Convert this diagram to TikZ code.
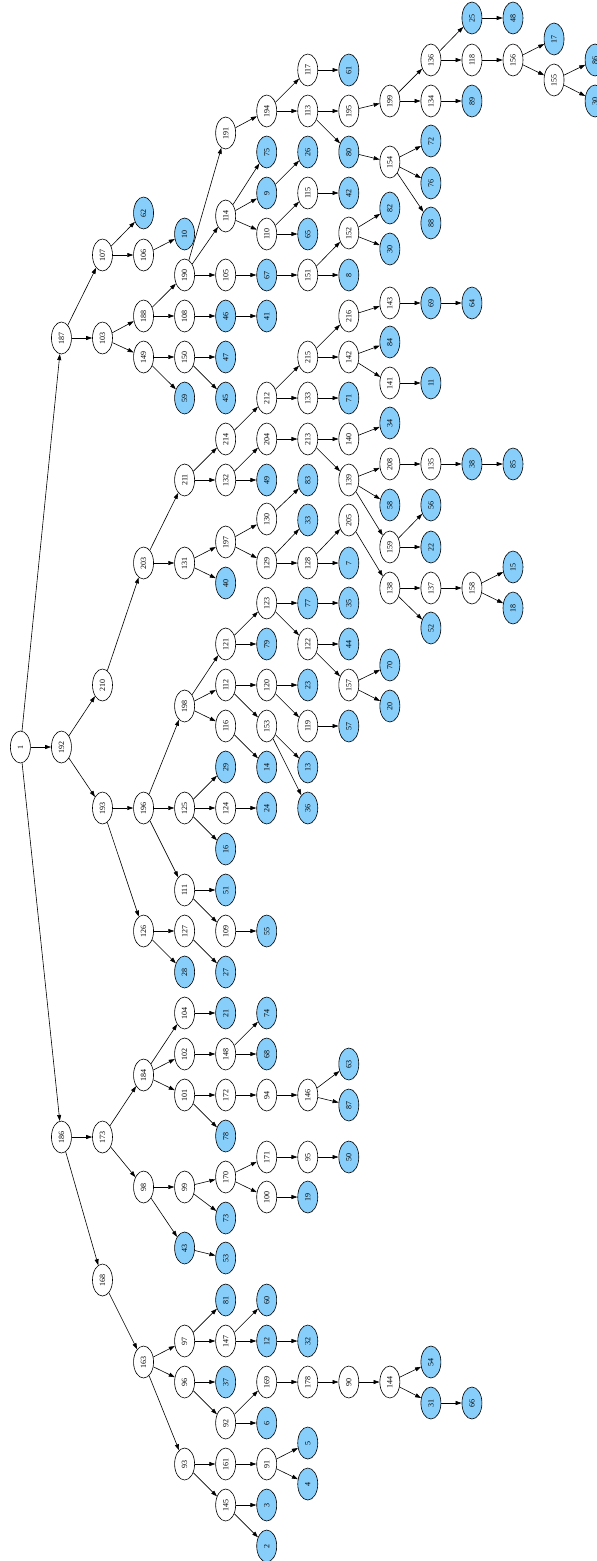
\documentclass[tikz,border=0pt]{standalone}
\usepackage{fontspec}
\setmainfont{Liberation Serif}
\usetikzlibrary{shapes.geometric,arrows.meta}
\definecolor{leafblue}{RGB}{135,206,250}
\tikzset{
  nd/.style={ellipse,draw=black,line width=0.6pt,minimum width=32pt,minimum height=20pt,inner sep=0pt,rotate=90,font=\fontsize{8}{9}\selectfont},
  wn/.style={nd,fill=white},
  bn/.style={nd,fill=leafblue},
  edge/.style={draw=black,line width=0.6pt,-{Triangle[length=6pt,width=4pt]}}
}
\begin{document}
\begin{tikzpicture}[x=1pt,y=-1pt]
\useasboundingbox (0,0) rectangle (597,1561);
% white nodes: name/label/col/y
\foreach \n/\c/\y in {
1/0/747, 187/1/338, 192/1/747, 186/1/1137,
107/2/255, 103/2/338, 106/3/255, 188/3/316, 149/3/357,
190/4/275, 108/4/316, 150/4/357,
191/5/133, 114/5/216, 105/5/275,
194/6/111, 110/6/234,
117/7/70, 113/7/111, 115/7/193, 151/7/275,
195/8/111, 152/8/233,
199/9/101, 154/9/162,
136/10/60, 134/10/101,
118/11/60, 156/12/60, 155/13/80,
210/2/685, 193/2/808,
203/3/563, 196/3/808, 126/3/931,
211/4/480, 131/4/563, 198/4/706, 125/4/808, 111/4/890, 127/4/931,
214/5/439, 132/5/480, 197/5/542, 121/5/644, 112/5/685, 116/5/726, 124/5/808, 109/5/931,
212/6/398, 204/6/439, 130/6/519, 129/6/563, 123/6/603, 120/6/685, 153/6/726,
215/7/357, 133/7/398, 213/7/439, 128/7/563, 122/7/644, 119/7/726,
216/8/316, 142/8/357, 140/8/439, 139/8/480, 205/8/520, 157/8/685,
143/9/303, 141/9/383, 208/9/464, 159/9/547, 138/9/588,
135/10/464, 137/10/588, 158/11/588,
173/2/1137, 168/2/1280,
184/3/1075, 98/3/1187, 163/3/1362,
104/4/1013, 102/4/1054, 101/4/1095, 99/4/1187, 97/4/1341, 96/4/1382, 93/4/1464,
148/5/1054, 172/5/1095, 170/5/1177, 147/5/1341, 92/5/1423, 161/5/1464, 145/5/1505,
94/6/1095, 171/6/1157, 100/6/1197, 169/6/1382, 91/6/1464,
146/7/1095, 95/7/1157, 178/7/1382,
90/8/1382, 144/9/1382}
  \node[wn] (n\n) at ({20.4+41.05*\c},\y) {\n};
% blue nodes
\foreach \n/\c/\y in {
62/3/213, 10/4/234, 59/4/398,
46/5/316, 47/5/357, 45/5/398,
75/6/152, 9/6/193, 67/6/275, 41/6/316,
26/7/152, 65/7/234,
61/8/70, 80/8/152, 42/8/193, 8/8/275,
82/9/208,
72/10/141, 76/10/183, 88/10/223,
25/11/18, 89/11/101, 48/12/18, 17/13/39, 86/14/60,
28/4/972,
40/5/583, 29/5/767, 16/5/849, 51/5/890, 27/5/972,
49/6/480, 79/6/644, 14/6/767, 24/6/808, 55/6/931,
83/7/480, 33/7/520, 77/7/603, 23/7/685, 13/7/767, 36/7/808,
71/8/398, 7/8/563, 35/8/603, 44/8/644, 57/8/726,
84/9/342, 34/9/423, 58/9/505, 70/9/665, 20/9/706,
69/10/303, 11/10/383, 56/10/505, 22/10/547, 52/10/628,
64/11/303, 38/11/464,
85/12/464, 15/12/567, 18/12/608,
43/4/1248,
21/5/1013, 78/5/1136, 73/5/1218, 53/5/1258, 81/5/1300, 37/5/1382,
74/6/1013, 68/6/1054, 60/6/1300, 12/6/1341, 6/6/1423, 3/6/1505, 2/6/1546,
19/7/1197, 32/7/1341, 5/7/1443, 4/7/1484,
63/8/1064, 87/8/1105, 50/8/1157,
54/10/1362, 31/10/1403, 66/11/1403}
  \node[bn] (n\n) at ({20.4+41.05*\c},\y) {\n};
\node[bn] (n30a) at ({20.4+41.05*9},249) {30};
\node[bn] (n30b) at ({20.4+41.05*14},101) {30};
% edges
\foreach \a/\b in {
1/187, 1/192, 1/186,
187/107, 187/103,
107/62, 107/106, 106/10,
103/188, 103/149,
188/190, 188/108, 108/46, 46/41,
190/191, 190/114, 190/105,
105/67, 67/151, 151/8, 151/152, 152/82, 152/30a,
114/75, 114/9, 114/110, 9/26, 110/115, 110/65, 115/42,
191/194, 194/117, 194/113, 117/61, 113/195, 113/80, 195/199, 199/136, 199/134, 134/89,
136/25, 136/118, 25/48, 118/156, 156/17, 156/155, 155/86, 155/30b,
80/154, 154/72, 154/76, 154/88,
149/150, 149/59, 150/47, 150/45,
192/210, 192/193, 210/203, 203/211, 203/131,
211/214, 211/132, 214/212, 212/215, 212/133, 133/71, 215/216, 215/142, 216/143, 143/69, 69/64,
142/84, 142/141, 141/11,
132/204, 132/49, 204/213, 213/140, 213/139, 140/34, 139/208, 139/58, 139/159, 208/135, 135/38, 38/85,
159/56, 159/22,
131/197, 131/40, 197/130, 197/129, 130/83, 129/33, 129/128, 128/205, 128/7, 205/138,
138/137, 138/52, 137/158, 158/15, 158/18,
193/196, 193/126, 196/198, 196/125, 196/111,
198/121, 198/112, 198/116, 121/123, 121/79, 123/77, 77/35, 123/122, 122/44, 122/157, 157/70, 157/20,
112/120, 112/153, 120/23, 120/119, 119/57, 153/13, 153/36, 116/14,
125/29, 125/124, 125/16, 124/24, 111/51, 111/109, 109/55, 126/127, 126/28, 127/27,
186/173, 186/168, 173/184, 173/98, 184/104, 184/102, 184/101, 104/21, 102/148, 148/74, 148/68,
101/172, 101/78, 172/94, 94/146, 146/63, 146/87,
98/99, 98/43, 99/170, 99/73, 170/171, 170/100, 171/95, 95/50, 100/19, 43/53,
168/163, 163/97, 163/96, 163/93, 97/81, 97/147, 147/60, 147/12, 12/32, 96/37, 96/92,
92/169, 92/6, 169/178, 178/90, 90/144, 144/54, 144/31, 31/66,
93/161, 161/91, 91/5, 91/4, 93/145, 145/3, 145/2}
  \draw[edge] (n\a) -- (n\b);
\end{tikzpicture}
\end{document}
